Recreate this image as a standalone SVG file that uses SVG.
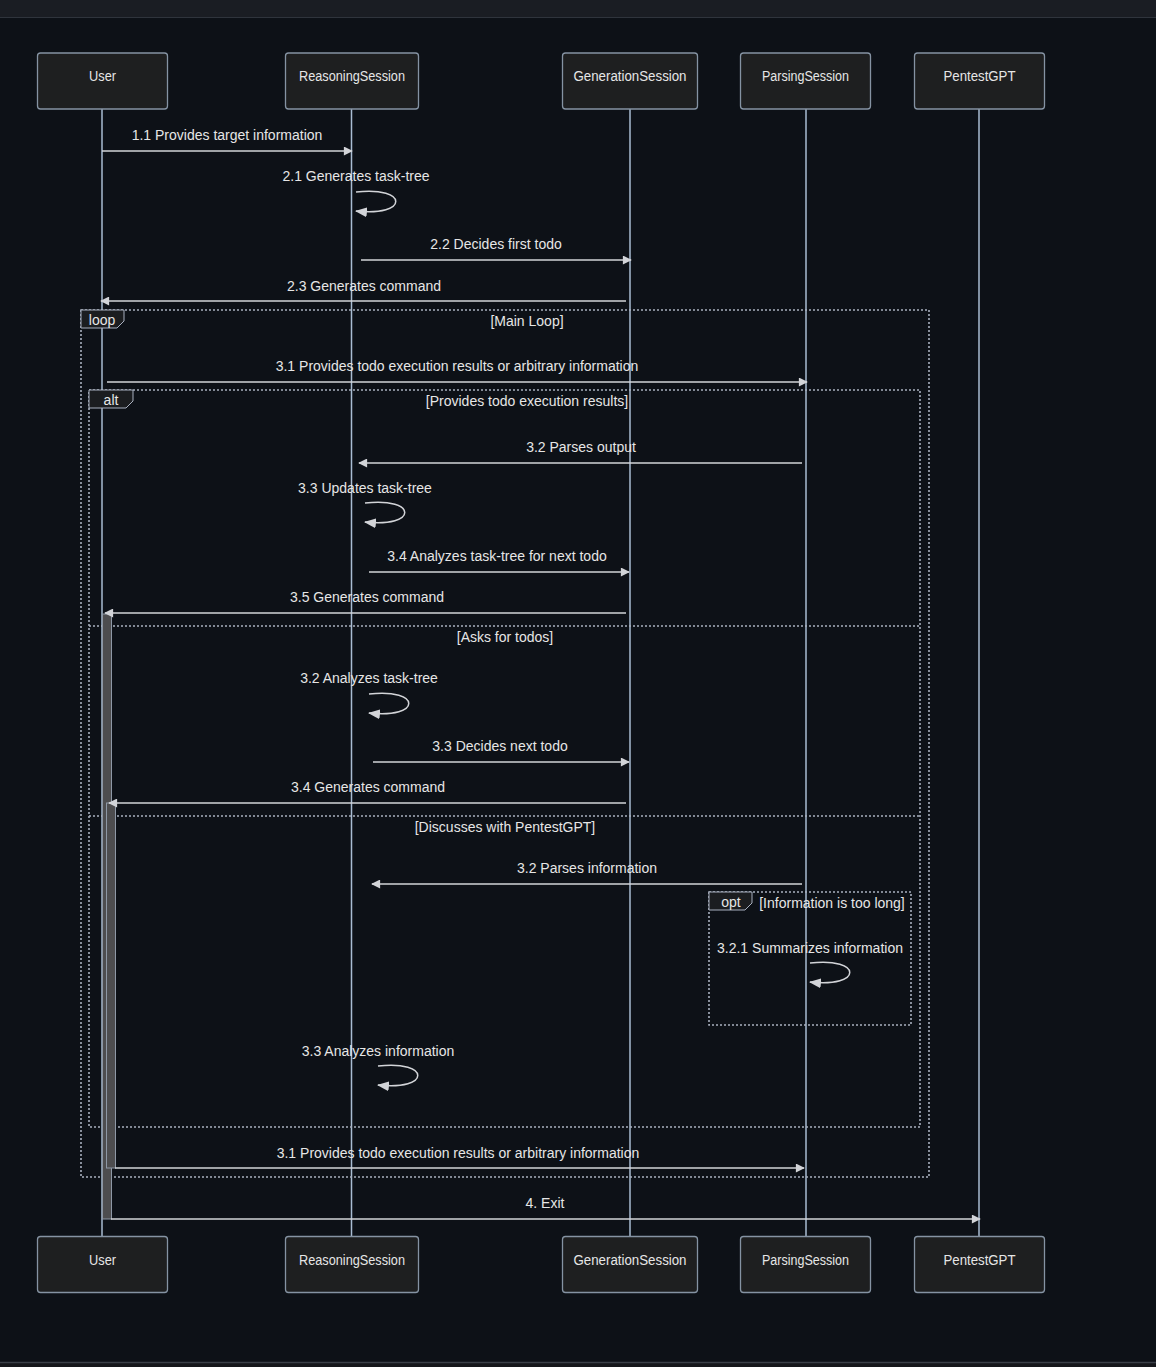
<svg xmlns="http://www.w3.org/2000/svg" width="1156" height="1367" viewBox="0 0 1156 1367">
<defs>
<style>
.bg{fill:#0d1117}
.actor{fill:#1e1f20;stroke:#8593a3;stroke-width:1.3}
.atext{fill:#e6e6e6;font-family:"Liberation Sans",Arial,sans-serif;font-size:14px;text-anchor:middle;dominant-baseline:central}
.life{stroke:#a9bdd3;stroke-width:1.5;fill:none}
.msg{stroke:#d2d4d8;stroke-width:1.5;fill:none}
.mtext{fill:#e6e6e6;font-family:"Liberation Sans",Arial,sans-serif;font-size:14px;text-anchor:middle;dominant-baseline:central}
.frame{fill:none;stroke:#a8b0bf;stroke-width:1.6;stroke-dasharray:2 2}
.flabel{fill:#1b1d20;stroke:#a8b0bf;stroke-width:1}
.ltext{fill:#e6e6e6;font-family:"Liberation Sans",Arial,sans-serif;font-size:14px;text-anchor:middle;dominant-baseline:central}
.act{fill:#4d4d4f;stroke:#8e98a6;stroke-width:1}
</style>
<marker id="ah" viewBox="0 0 10 10" refX="9" refY="5" markerWidth="10" markerHeight="9" markerUnits="userSpaceOnUse" orient="auto">
<path d="M0 0 L10 5 L0 10 z" fill="#d2d4d8"/>
</marker>
<marker id="ahl" viewBox="0 0 12 10" refX="11" refY="5" markerWidth="12" markerHeight="10" markerUnits="userSpaceOnUse" orient="auto">
<path d="M0 0 L12 5 L0 10 z" fill="#d2d4d8"/>
</marker>
</defs>
<rect class="bg" x="0" y="0" width="1156" height="1367"/>
<rect x="0" y="0" width="1156" height="17" fill="#1a1d23"/>
<line x1="0" y1="17.5" x2="1156" y2="17.5" stroke="#2f343c" stroke-width="1"/>
<rect x="0" y="1362" width="1156" height="5" fill="#15171b"/>
<line x1="0" y1="1362.5" x2="1156" y2="1362.5" stroke="#3a3f47" stroke-width="1.5"/>

<g id="lifelines">
<line class="life" x1="102" y1="109" x2="102" y2="1236"/>
<line class="life" x1="351.5" y1="109" x2="351.5" y2="1236"/>
<line class="life" x1="630" y1="109" x2="630" y2="1236"/>
<line class="life" x1="806" y1="109" x2="806" y2="1236"/>
<line class="life" x1="979" y1="109" x2="979" y2="1236"/>
</g>

<g id="frames">
<rect class="frame" x="81" y="310" width="848" height="867"/>
<path class="flabel" d="M81 310 H124 V321 L117 328 H81 Z"/>
<text class="ltext" x="102" y="320">loop</text>
<text class="ltext" x="527" y="321">[Main Loop]</text>

<rect class="frame" x="89" y="390" width="831" height="737"/>
<path class="flabel" d="M89 390 H133 V401 L126 408 H89 Z"/>
<text class="ltext" x="111" y="400">alt</text>
<text class="ltext" x="527" y="401">[Provides todo execution results]</text>
<line class="frame" x1="89" y1="626" x2="920" y2="626"/>
<text class="ltext" x="505" y="637">[Asks for todos]</text>
<line class="frame" x1="89" y1="816" x2="920" y2="816"/>
<text class="ltext" x="505" y="827">[Discusses with PentestGPT]</text>

<rect class="frame" x="709" y="892" width="202" height="133"/>
<path class="flabel" d="M709 892 H752 V903 L745 910 H709 Z"/>
<text class="ltext" x="731" y="902">opt</text>
<text class="ltext" x="832" y="903">[Information is too long]</text>
</g>

<g id="activations">
<rect class="act" x="102.5" y="614" width="9" height="605"/>
<rect class="act" x="106.5" y="803" width="9" height="365"/>
</g>

<g id="connectors">
<line class="msg" x1="102" y1="151" x2="352" y2="151" marker-end="url(#ah)"/>
<text class="mtext" x="227" y="135">1.1 Provides target information</text>

<path class="msg" d="M356 192 C409 186 409 217 356 211" marker-end="url(#ahl)"/>
<text class="mtext" x="356" y="176">2.1 Generates task-tree</text>

<line class="msg" x1="361" y1="260" x2="631" y2="260" marker-end="url(#ah)"/>
<text class="mtext" x="496" y="244">2.2 Decides first todo</text>

<line class="msg" x1="626" y1="301" x2="101" y2="301" marker-end="url(#ah)"/>
<text class="mtext" x="364" y="286">2.3 Generates command</text>

<line class="msg" x1="107" y1="382" x2="807" y2="382" marker-end="url(#ah)"/>
<text class="mtext" x="457" y="366">3.1 Provides todo execution results or arbitrary information</text>

<line class="msg" x1="802" y1="463" x2="359" y2="463" marker-end="url(#ah)"/>
<text class="mtext" x="581" y="447">3.2 Parses output</text>

<path class="msg" d="M365 503 C418 497 418 528 365 522" marker-end="url(#ahl)"/>
<text class="mtext" x="365" y="488">3.3 Updates task-tree</text>

<line class="msg" x1="369" y1="572" x2="629" y2="572" marker-end="url(#ah)"/>
<text class="mtext" x="497" y="556">3.4 Analyzes task-tree for next todo</text>

<line class="msg" x1="626" y1="613" x2="105" y2="613" marker-end="url(#ah)"/>
<text class="mtext" x="367" y="597">3.5 Generates command</text>

<path class="msg" d="M369 694 C422 688 422 719 369 713" marker-end="url(#ahl)"/>
<text class="mtext" x="369" y="678">3.2 Analyzes task-tree</text>

<line class="msg" x1="373" y1="762" x2="629" y2="762" marker-end="url(#ah)"/>
<text class="mtext" x="500" y="746">3.3 Decides next todo</text>

<line class="msg" x1="626" y1="803" x2="109" y2="803" marker-end="url(#ah)"/>
<text class="mtext" x="368" y="787">3.4 Generates command</text>

<line class="msg" x1="802" y1="884" x2="372" y2="884" marker-end="url(#ah)"/>
<text class="mtext" x="587" y="868">3.2 Parses information</text>

<path class="msg" d="M810 963 C863 957 863 988 810 982" marker-end="url(#ahl)"/>
<text class="mtext" x="810" y="948">3.2.1 Summarizes information</text>

<path class="msg" d="M378 1066 C431 1060 431 1091 378 1085" marker-end="url(#ahl)"/>
<text class="mtext" x="378" y="1051">3.3 Analyzes information</text>

<line class="msg" x1="115" y1="1168" x2="804" y2="1168" marker-end="url(#ah)"/>
<text class="mtext" x="458" y="1153">3.1 Provides todo execution results or arbitrary information</text>

<line class="msg" x1="111" y1="1219" x2="980" y2="1219" marker-end="url(#ah)"/>
<text class="mtext" x="545" y="1203">4. Exit</text>
</g>

<g id="node-user">
<rect class="actor" x="37.5" y="53" width="130" height="56" rx="3"/>
<text class="atext" x="102.5" y="76" textLength="27" lengthAdjust="spacingAndGlyphs">User</text>
<rect class="actor" x="37.5" y="1236.5" width="130" height="56" rx="3"/>
<text class="atext" x="102.5" y="1260" textLength="27" lengthAdjust="spacingAndGlyphs">User</text>
</g>
<g id="node-reasoning">
<rect class="actor" x="285.5" y="53" width="133" height="56" rx="3"/>
<text class="atext" x="352" y="76" textLength="106" lengthAdjust="spacingAndGlyphs">ReasoningSession</text>
<rect class="actor" x="285.5" y="1236.5" width="133" height="56" rx="3"/>
<text class="atext" x="352" y="1260" textLength="106" lengthAdjust="spacingAndGlyphs">ReasoningSession</text>
</g>
<g id="node-generation">
<rect class="actor" x="562.5" y="53" width="135" height="56" rx="3"/>
<text class="atext" x="630" y="76" textLength="113" lengthAdjust="spacingAndGlyphs">GenerationSession</text>
<rect class="actor" x="562.5" y="1236.5" width="135" height="56" rx="3"/>
<text class="atext" x="630" y="1260" textLength="113" lengthAdjust="spacingAndGlyphs">GenerationSession</text>
</g>
<g id="node-parsing">
<rect class="actor" x="740.5" y="53" width="130" height="56" rx="3"/>
<text class="atext" x="805.5" y="76" textLength="87" lengthAdjust="spacingAndGlyphs">ParsingSession</text>
<rect class="actor" x="740.5" y="1236.5" width="130" height="56" rx="3"/>
<text class="atext" x="805.5" y="1260" textLength="87" lengthAdjust="spacingAndGlyphs">ParsingSession</text>
</g>
<g id="node-pentestgpt">
<rect class="actor" x="914.5" y="53" width="130" height="56" rx="3"/>
<text class="atext" x="979.5" y="76" textLength="72" lengthAdjust="spacingAndGlyphs">PentestGPT</text>
<rect class="actor" x="914.5" y="1236.5" width="130" height="56" rx="3"/>
<text class="atext" x="979.5" y="1260" textLength="72" lengthAdjust="spacingAndGlyphs">PentestGPT</text>
</g>
</svg>
